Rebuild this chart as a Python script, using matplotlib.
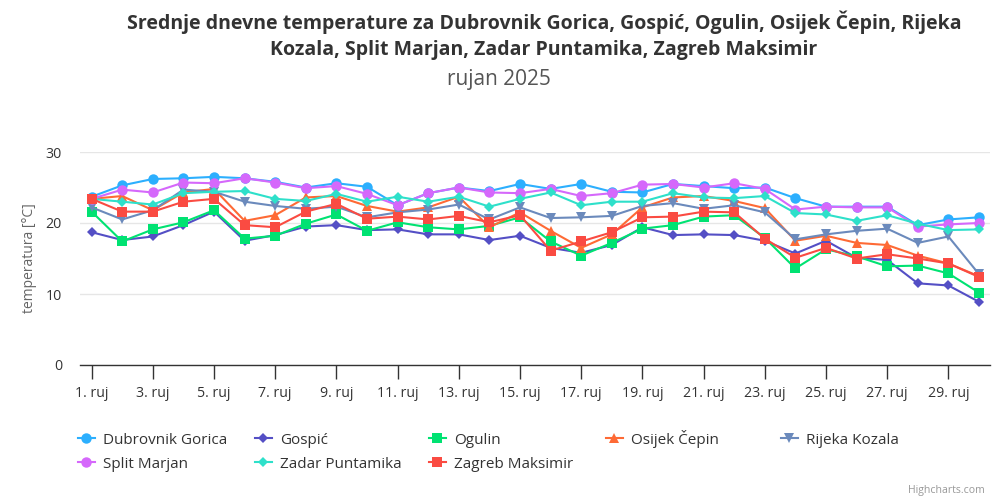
import matplotlib
matplotlib.use("Agg")
import matplotlib.pyplot as plt
from matplotlib.lines import Line2D

days = list(range(1, 31))
tick_days = list(range(1, 30, 2))
tick_labels = [f"{d}. ruj" for d in tick_days]

dubrovnik = [23.7, 25.3, 26.2, 26.3, 26.5, 26.3, 25.8, 25.0, 25.6, 25.1, 22.5, 24.2, 25.0, 24.5, 25.5,
             24.8, 25.5, 24.4, 24.3, 25.5, 25.2, 24.9, 25.0, 23.5, 22.3, 22.3, 22.3, 19.7, 20.5, 20.8]
gospic = [18.7, 17.6, 18.1, 19.7, 21.6, 17.5, 18.3, 19.5, 19.7, 19.0, 19.1, 18.4, 18.4, 17.6, 18.2,
          16.5, 15.8, 16.9, 19.4, 18.3, 18.4, 18.3, 17.5, 15.7, 17.5, 15.1, 14.8, 11.5, 11.2, 8.9]
ogulin = [21.6, 17.4, 19.1, 20.1, 21.8, 17.8, 18.2, 19.9, 21.2, 18.9, 20.1, 19.4, 19.1, 19.6, 20.8,
          17.4, 15.4, 17.2, 19.2, 19.7, 20.9, 21.1, 17.9, 13.6, 16.3, 15.3, 13.9, 14.0, 12.9, 10.2]
osijek = [23.4, 23.8, 21.8, 24.3, 24.8, 20.3, 21.1, 23.6, 23.8, 22.4, 21.6, 22.2, 23.7, 19.4, 21.5,
          18.9, 16.5, 18.4, 22.2, 23.6, 23.8, 23.1, 22.1, 17.5, 18.2, 17.2, 16.9, 15.4, 14.3, 12.5]
rijeka = [22.2, 20.5, 21.8, 24.7, 24.4, 23.0, 22.4, 22.0, 22.3, 20.8, 21.5, 21.9, 22.6, 20.5, 22.2,
          20.7, 20.8, 21.0, 22.4, 22.8, 22.0, 22.5, 21.5, 17.7, 18.4, 18.9, 19.2, 17.2, 18.1, 12.8]
split = [23.4, 24.7, 24.3, 25.7, 25.6, 26.3, 25.7, 24.9, 25.2, 24.1, 22.5, 24.2, 25.0, 24.3, 24.2,
         24.8, 23.8, 24.2, 25.4, 25.5, 25.0, 25.6, 24.8, 21.9, 22.3, 22.2, 22.2, 19.5, 19.8, 20.0]
zadar = [23.4, 23.0, 22.6, 24.2, 24.4, 24.5, 23.4, 23.1, 24.1, 23.0, 23.7, 23.0, 23.7, 22.3, 23.4,
         24.3, 22.5, 23.0, 23.0, 24.2, 23.6, 23.5, 23.8, 21.4, 21.2, 20.3, 21.1, 19.9, 19.0, 19.1]
zagreb = [23.4, 21.6, 21.6, 23.0, 23.4, 19.7, 19.4, 21.6, 22.7, 20.6, 20.9, 20.5, 21.0, 20.1, 21.1,
          16.1, 17.4, 18.7, 20.8, 20.9, 21.6, 21.5, 17.8, 15.1, 16.5, 15.0, 15.6, 15.0, 14.3, 12.4]

names = ["Dubrovnik Gorica", "Gospić", "Ogulin", "Osijek Čepin", "Rijeka Kozala",
         "Split Marjan", "Zadar Puntamika", "Zagreb Maksimir"]
series = [dubrovnik, gospic, ogulin, osijek, rijeka, split, zadar, zagreb]
colors = ["#2caffe", "#544fc5", "#00e272", "#fe6a35", "#6b8abc", "#d568fb", "#2ee0ca", "#fa4b42"]
markers = ["o", "D", "s", "^", "v", "o", "D", "s"]
msizes = [7.5, 5.5, 7.5, 7.5, 7.5, 7.5, 5.5, 7.5]

plt.rcParams['font.family'] = ['Open Sans', 'DejaVu Sans']

fig = plt.figure(figsize=(10, 5), dpi=100)
ax = fig.add_axes([0.080, 0.270, 0.910, 0.426])

handles = []
for name, vals, c, m, ms in zip(names, series, colors, markers, msizes):
    h, = ax.plot(days, vals, color=c, marker=m, markersize=ms, linewidth=1.5,
                 markeredgewidth=0, label=name)
    handles.append(h)

ax.set_xlim(0.62, 30.36)
ax.set_ylim(0, 30)
ax.set_yticks([0, 10, 20, 30])
ax.set_xticks(tick_days)
ax.set_xticklabels(tick_labels)
ax.grid(axis='y', color='#e6e6e6', linewidth=1)
ax.set_axisbelow(True)
for s in ['top', 'right', 'left']:
    ax.spines[s].set_visible(False)
ax.spines['bottom'].set_color('#333333')
ax.spines['bottom'].set_linewidth(1)
ax.tick_params(axis='x', length=10, width=1, color='#333333', labelcolor='#333333',
               labelsize=10.2, pad=5)
ax.tick_params(axis='y', length=0, labelcolor='#333333', labelsize=10.2, pad=13)
ax.set_ylabel("temperatura [°C]", color='#666666', fontsize=10, labelpad=6)

fig.text(0.544, 1 - 22 / 500, "Srednje dnevne temperature za Dubrovnik Gorica, Gospić, Ogulin, Osijek Čepin, Rijeka",
         ha='center', va='center', fontsize=14, fontweight='bold', color='#333333')
fig.text(0.544, 1 - 50 / 500, "Kozala, Split Marjan, Zadar Puntamika, Zagreb Maksimir",
         ha='center', va='center', fontsize=14, fontweight='bold', color='#333333')
fig.text(0.499, 1 - 80 / 500, "rujan 2025", ha='center', va='center', fontsize=15, color='#555555')

col_x = [78, 255, 429, 606, 781]
row_y = [440, 464]
y_adjust = [0, 0, 0, -1.5, 0, 0, 0, 0]
for i, h in enumerate(handles):
    col = i % 5
    row = i // 5
    lh = Line2D([], [], color=h.get_color(), marker=h.get_marker(), markersize=h.get_markersize(),
                linewidth=1.5, markeredgewidth=0)
    fig.legend([lh], [h.get_label()], loc='center left',
               bbox_to_anchor=(col_x[col] / 1000, 1 - (row_y[row] + y_adjust[i]) / 500),
               frameon=False, borderpad=0, borderaxespad=0, handlelength=1.1,
               handletextpad=0.55, fontsize=11, labelcolor='#333333')

fig.text(0.985, 1 - 490 / 500, "Highcharts.com", ha='right', va='center', fontsize=7.6, color='#999999')

fig.savefig("out.png", dpi=100)
